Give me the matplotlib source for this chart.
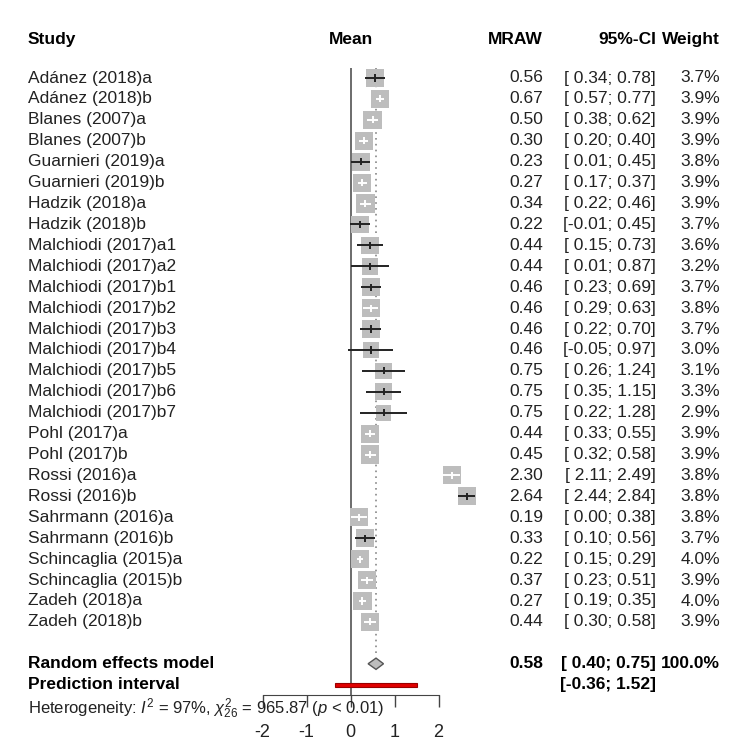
# -*- coding: utf-8 -*-

import matplotlib
matplotlib.use("Agg")
import matplotlib.pyplot as plt
import numpy as np

plt.rcParams["font.family"] = ["Liberation Sans", "DejaVu Sans"]
plt.rcParams["axes.unicode_minus"] = False
plt.rcParams["mathtext.fontset"] = "custom"
plt.rcParams["mathtext.rm"] = "Liberation Sans"
plt.rcParams["mathtext.it"] = "Liberation Sans:italic"

studies = [
    "Adánez (2018)a", "Adánez (2018)b", "Blanes (2007)a", "Blanes (2007)b",
    "Guarnieri (2019)a", "Guarnieri (2019)b", "Hadzik (2018)a", "Hadzik (2018)b",
    "Malchiodi (2017)a1", "Malchiodi (2017)a2", "Malchiodi (2017)b1",
    "Malchiodi (2017)b2", "Malchiodi (2017)b3", "Malchiodi (2017)b4",
    "Malchiodi (2017)b5", "Malchiodi (2017)b6", "Malchiodi (2017)b7",
    "Pohl (2017)a", "Pohl (2017)b", "Rossi (2016)a", "Rossi (2016)b",
    "Sahrmann (2016)a", "Sahrmann (2016)b", "Schincaglia (2015)a",
    "Schincaglia (2015)b", "Zadeh (2018)a", "Zadeh (2018)b",
]
means = [0.56, 0.67, 0.50, 0.30, 0.23, 0.27, 0.34, 0.22, 0.44, 0.44, 0.46, 0.46,
         0.46, 0.46, 0.75, 0.75, 0.75, 0.44, 0.45, 2.30, 2.64, 0.19, 0.33, 0.22,
         0.37, 0.27, 0.44]
lower = [0.34, 0.57, 0.38, 0.20, 0.01, 0.17, 0.22, -0.01, 0.15, 0.01, 0.23, 0.29,
         0.22, -0.05, 0.26, 0.35, 0.22, 0.33, 0.32, 2.11, 2.44, 0.00, 0.10, 0.15,
         0.23, 0.19, 0.30]
upper = [0.78, 0.77, 0.62, 0.40, 0.45, 0.37, 0.46, 0.45, 0.73, 0.87, 0.69, 0.63,
         0.70, 0.97, 1.24, 1.15, 1.28, 0.55, 0.58, 2.49, 2.84, 0.38, 0.56, 0.29,
         0.51, 0.35, 0.58]
weights = [3.7, 3.9, 3.9, 3.9, 3.8, 3.9, 3.9, 3.7, 3.6, 3.2, 3.7, 3.8, 3.7, 3.0,
           3.1, 3.3, 2.9, 3.9, 3.9, 3.8, 3.8, 3.8, 3.7, 4.0, 3.9, 4.0, 3.9]

# pooled estimate and prediction interval
re_mean, re_lower, re_upper = 0.58, 0.40, 0.75
pi_lower, pi_upper = -0.36, 1.52
x_ticks = [-2, -1, 0, 1, 2]
het_text = r"Heterogeneity: $I^2$ = 97%, $\chi^2_{26}$ = 965.87 ($p$ < 0.01)"

W, H = 733, 747
X0, XU = 350.5, 44.0      # pixel of x=0, pixels per unit
Y0, YU = 78.0, 20.92      # pixel of first row, pixels per row
FS = 12.5
TXT = "#222222"


def ci_str(lo, hi):
    return "[{:5.2f};{:5.2f}]".format(lo, hi)


def viz():
    fig = plt.figure(figsize=(W / 100, H / 100), dpi=100)
    ax = fig.add_axes([0, 0, 1, 1])
    ax.set_xlim(-X0 / XU, (W - X0) / XU)
    ax.set_ylim((H - Y0) / YU, -Y0 / YU)

    n = len(studies)
    rows = np.arange(n)
    re_row, pi_row = n + 1, n + 2
    axis_row = pi_row + 0.5

    # reference lines
    ax.vlines(0, -0.5, axis_row, color="#444444", lw=1.1, zorder=1)
    ax.vlines(re_mean, -0.5, re_row - 0.3, color="#888888", lw=1.2,
              linestyles=(0, (1, 2.5)), zorder=1)

    # study squares, area ~ weight
    side_px = 18.2 * np.sqrt(np.array(weights) / 3.9)
    ax.scatter(means, rows, s=(side_px * 0.72) ** 2, marker="s",
               color="#bdbdbd", edgecolors="none", zorder=2)

    # CI lines: white when the CI sits inside the square
    for i in rows:
        width = upper[i] - lower[i]
        col = "white" if width < 17.6 * np.sqrt(weights[i] / 3.9) / XU else "#222222"
        ax.hlines(i, lower[i], upper[i], color=col, lw=1.4, zorder=3)
        ax.vlines(means[i], i - 0.17, i + 0.17, color=col, lw=1.4, zorder=3)

    # random effects diamond
    ax.fill([re_lower, re_mean, re_upper, re_mean],
            [re_row, re_row - 0.27, re_row, re_row + 0.27],
            facecolor="#bdbdbd", edgecolor="#555555", lw=1.0, zorder=3)
    # prediction interval
    ax.fill([pi_lower, pi_upper, pi_upper, pi_lower],
            [pi_row - 0.1, pi_row - 0.1, pi_row + 0.1, pi_row + 0.1],
            facecolor="#e00000", edgecolor="#990000", lw=0.8, zorder=3)

    # x axis
    for s in ["left", "right", "top"]:
        ax.spines[s].set_visible(False)
    ax.spines["bottom"].set_position(("data", axis_row))
    ax.spines["bottom"].set_bounds(x_ticks[0], x_ticks[-1])
    ax.spines["bottom"].set_color("#444444")
    ax.set_xticks(x_ticks)
    ax.set_xticklabels([str(t) for t in x_ticks])
    ax.tick_params(axis="x", direction="out", length=8.5, width=1.0,
                   color="#444444", pad=12, labelsize=13, labelcolor=TXT)
    ax.set_yticks([])

    tr = ax.get_yaxis_transform()
    x_study, x_val, x_ci, x_w = 28 / W, 543 / W, 656 / W, 720 / W

    # header
    hy = -1.82
    ax.text(x_study, hy, "Study", transform=tr, ha="left", va="center",
            fontsize=FS, fontweight="bold", color="black")
    ax.text(0, hy, "Mean", ha="center", va="center",
            fontsize=FS, fontweight="bold", color="black")
    for xx, lab in [(x_val, "MRAW"), (x_ci, "95%-CI"), (x_w, "Weight")]:
        ax.text(xx, hy, lab, transform=tr, ha="right", va="center",
                fontsize=FS, fontweight="bold", color="black")

    # study rows
    for i in rows:
        ax.text(x_study, i, studies[i], transform=tr, ha="left", va="center",
                fontsize=FS, color=TXT)
        ax.text(x_val, i, "{:.2f}".format(means[i]), transform=tr,
                ha="right", va="center", fontsize=FS, color=TXT)
        ax.text(x_ci, i, ci_str(lower[i], upper[i]), transform=tr,
                ha="right", va="center", fontsize=FS, color=TXT)
        ax.text(x_w, i, "{:.1f}%".format(weights[i]), transform=tr,
                ha="right", va="center", fontsize=FS, color=TXT)

    # summary rows
    ax.text(x_study, re_row, "Random effects model", transform=tr, ha="left",
            va="center", fontsize=FS, fontweight="bold", color="black")
    ax.text(x_val, re_row, "{:.2f}".format(re_mean), transform=tr, ha="right",
            va="center", fontsize=FS, fontweight="bold", color="black")
    ax.text(x_ci, re_row, ci_str(re_lower, re_upper), transform=tr, ha="right",
            va="center", fontsize=FS, fontweight="bold", color="black")
    ax.text(x_w, re_row, "100.0%", transform=tr, ha="right",
            va="center", fontsize=FS, fontweight="bold", color="black")
    ax.text(x_study, pi_row, "Prediction interval", transform=tr, ha="left",
            va="center", fontsize=FS, fontweight="bold", color="black")
    ax.text(x_ci, pi_row, ci_str(pi_lower, pi_upper), transform=tr, ha="right",
            va="center", fontsize=FS, fontweight="bold", color="black")

    ax.text(x_study, pi_row + 1.15, het_text, transform=tr, ha="left",
            va="center", fontsize=12, color=TXT)

    fig.savefig("out.png", dpi=100, facecolor="white")


if __name__ == "__main__":
    viz()
